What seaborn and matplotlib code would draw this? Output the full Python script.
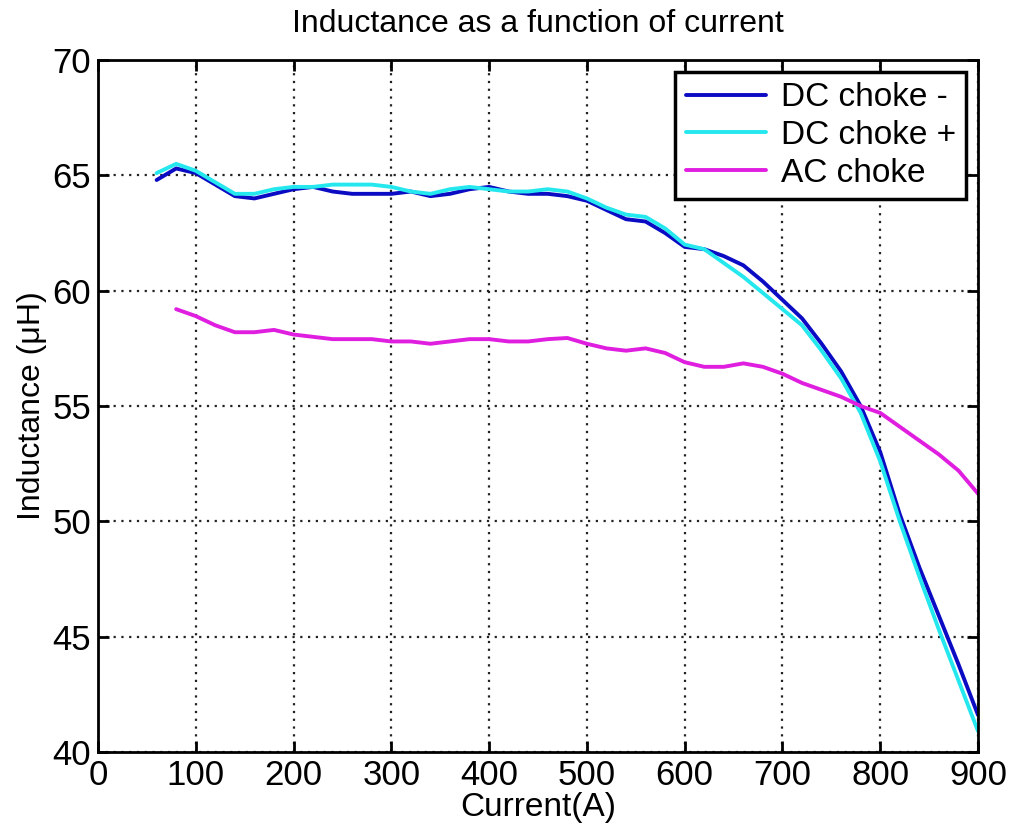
import numpy as np
import pandas as pd
import matplotlib
matplotlib.use("Agg")
import matplotlib.pyplot as plt
import seaborn as sns

# current points (A)
current = list(range(60, 901, 20))

dc_minus = [64.8, 65.3, 65.1, 64.6, 64.1, 64.0, 64.2, 64.4, 64.5, 64.3,
            64.2, 64.2, 64.2, 64.3, 64.1, 64.2, 64.4, 64.5, 64.3, 64.2,
            64.2, 64.1, 63.9, 63.5, 63.1, 63.0, 62.5, 61.9, 61.8, 61.5,
            61.1, 60.4, 59.6, 58.8, 57.7, 56.5, 55.0, 53.0, 50.3, 48.0,
            45.9, 43.8, 41.6]

dc_plus = [65.1, 65.5, 65.2, 64.7, 64.2, 64.2, 64.4, 64.5, 64.5, 64.6,
           64.6, 64.6, 64.5, 64.3, 64.2, 64.4, 64.5, 64.4, 64.3, 64.3,
           64.4, 64.3, 64.0, 63.6, 63.3, 63.2, 62.7, 62.0, 61.8, 61.2,
           60.6, 59.9, 59.2, 58.5, 57.4, 56.2, 54.7, 52.6, 50.0, 47.6,
           45.3, 43.1, 40.9]

# AC choke starts at 80 A
current_ac = list(range(80, 901, 20))
ac_choke = [59.2, 58.9, 58.5, 58.2, 58.2, 58.3, 58.1, 58.0, 57.9, 57.9,
            57.9, 57.8, 57.8, 57.7, 57.8, 57.9, 57.9, 57.8, 57.8, 57.9,
            57.95, 57.7, 57.5, 57.4, 57.5, 57.3, 56.9, 56.7, 56.7, 56.85,
            56.7, 56.4, 56.0, 55.7, 55.4, 55.0, 54.7, 54.1, 53.5, 52.9,
            52.2, 51.2]

labels = ["DC choke -", "DC choke +", "AC choke"]
colors = ["#0b0bc4", "#25e8ee", "#e01ee0"]


def main():
    df = pd.concat([
        pd.DataFrame({"Current": current, "L": dc_minus, "Series": labels[0]}),
        pd.DataFrame({"Current": current, "L": dc_plus, "Series": labels[1]}),
        pd.DataFrame({"Current": current_ac, "L": ac_choke, "Series": labels[2]}),
    ], ignore_index=True)

    sns.set_style("ticks")
    plt.rcParams["font.family"] = ["Liberation Sans", "DejaVu Sans"]
    plt.rcParams["text.color"] = "black"
    plt.rcParams["axes.labelcolor"] = "black"
    plt.rcParams["xtick.color"] = "black"
    plt.rcParams["ytick.color"] = "black"

    fig = plt.figure(figsize=(10.13, 8.34), dpi=100)
    ax = fig.add_axes([0.0967, 0.0983, 0.8688, 0.8297])

    sns.lineplot(data=df, x="Current", y="L", hue="Series", hue_order=labels,
                 palette=colors, linewidth=2.8, ax=ax, estimator=None, sort=False)

    ax.set_xlim(0, 900)
    ax.set_ylim(40, 70)
    ax.set_xticks(np.arange(0, 901, 100))
    ax.set_yticks(np.arange(40, 71, 5))
    ax.grid(True, color="#222222", linestyle=(0, (1, 2.5)), linewidth=1.6)
    ax.tick_params(direction="in", length=8, width=2, labelsize=25,
                   top=True, right=True, pad=5)
    for s in ax.spines.values():
        s.set_linewidth(2)
        s.set_color("black")

    ax.set_title("Inductance as a function of current", fontsize=23, pad=20)
    ax.set_xlabel("Current(A)", fontsize=24, labelpad=0)
    ax.set_ylabel("Inductance (\u03bcH)", fontsize=23, labelpad=4)

    leg = ax.legend(loc="upper right", fontsize=24, frameon=True, fancybox=False,
                    borderaxespad=0.35, handlelength=2.4, labelspacing=0.2,
                    borderpad=0.32, handletextpad=0.45, handleheight=0.7)
    leg.get_frame().set_edgecolor("black")
    leg.get_frame().set_linewidth(2.5)
    leg.get_frame().set_alpha(1)
    for line in leg.get_lines():
        line.set_linewidth(2.8)

    fig.savefig("out.png", dpi=100)
    plt.close(fig)


if __name__ == "__main__":
    main()
